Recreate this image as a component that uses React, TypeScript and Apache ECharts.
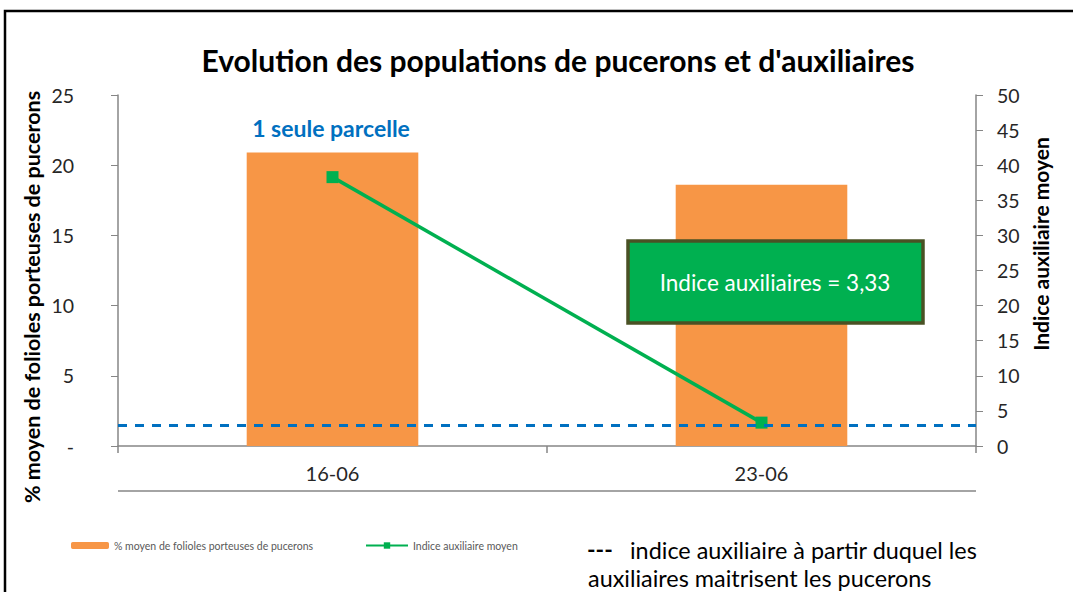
import React, { useEffect, useRef } from "react";
import * as echarts from "echarts";

const categories = ["16-06", "23-06"];
const pucerons = [20.9, 18.6];
const auxiliaires = [38.3, 3.33];
const seuil = 3;
const leftTicks = [0, 5, 10, 15, 20, 25];
const rightTicks = [0, 5, 10, 15, 20, 25, 30, 35, 40, 45, 50];

const FONT = "Lato, 'Open Sans', sans-serif";

export default function App() {
  const ref = useRef<HTMLDivElement>(null);
  useEffect(() => {
    if (!ref.current) return;
    const chart = echarts.init(ref.current, undefined, { renderer: "svg" });
    const gridLeft = 118, gridRight = 97, gridTop = 95, gridBottom = 146;
    chart.setOption({
      animation: false,
      backgroundColor: "#ffffff",
      textStyle: { fontFamily: FONT },
      title: {
        text: "Evolution des populations de pucerons et d'auxiliaires",
        left: 553,
        textAlign: "center",
        top: 40,
        textStyle: { fontFamily: FONT, fontSize: 30, fontWeight: "bold", color: "#000" },
      },
      grid: { left: gridLeft, right: gridRight, top: gridTop, bottom: gridBottom },
      legend: [
        {
          data: ["% moyen de folioles porteuses de pucerons"],
          left: 66,
          top: 535,
          itemWidth: 38,
          itemHeight: 7,
          itemGap: 5,
          textStyle: { fontSize: 10.5, color: "#595959", fontFamily: FONT },
        },
        {
          data: ["Indice auxiliaire moyen"],
          left: 360,
          top: 535,
          itemWidth: 42,
          itemHeight: 8,
          textStyle: { fontSize: 10.5, color: "#595959", fontFamily: FONT },
        },
      ],
      xAxis: {
        type: "category",
        data: categories,
        boundaryGap: true,
        axisLine: { lineStyle: { color: "#868686", width: 1.5 } },
        axisTick: { show: true, interval: 0, length: 7, lineStyle: { color: "#868686", width: 1.5 } },
        axisLabel: { fontSize: 20, color: "#262626", margin: 17, fontFamily: FONT },
      },
      yAxis: [
        {
          type: "value",
          min: 0,
          max: 25,
          interval: 5,
          axisLine: { show: true, lineStyle: { color: "#868686", width: 1.5 } },
          axisTick: { show: true, length: 7, lineStyle: { color: "#868686" } },
          axisLabel: {
            fontSize: 19.5,
            color: "#262626",
            margin: 20,
            padding: [0, 24, 0, 0],
            fontFamily: FONT,
            formatter: (v: number) => (leftTicks.includes(v) && v === 0 ? "-" : String(v)),
          },
          splitLine: { show: false },
        },
        {
          type: "value",
          min: 0,
          max: 50,
          interval: 5,
          axisLine: { show: true, lineStyle: { color: "#868686", width: 1.5 } },
          axisTick: { show: true, length: 7, lineStyle: { color: "#868686" } },
          axisLabel: {
            fontSize: 19.5,
            color: "#262626",
            margin: 21,
            fontFamily: FONT,
            formatter: (v: number) => (rightTicks.includes(v) ? String(v) : ""),
          },
          splitLine: { show: false },
        },
      ],
      series: [
        {
          name: "% moyen de folioles porteuses de pucerons",
          type: "bar",
          data: pucerons,
          yAxisIndex: 0,
          barWidth: "40%",
          itemStyle: { color: "#F79646" },
        },
        {
          name: "Indice auxiliaire moyen",
          type: "line",
          data: auxiliaires,
          yAxisIndex: 1,
          symbol: "rect",
          symbolSize: 12,
          lineStyle: { color: "#00B050", width: 3.5 },
          itemStyle: { color: "#00B050" },
          markLine: {
            silent: true,
            symbol: "none",
            label: { show: false },
            lineStyle: { color: "#0070C0", type: [9, 8], width: 3 },
            data: [{ yAxis: seuil }],
          },
        },
      ],
      graphic: [
        {
          type: "rect",
          z: 100,
          shape: { x: 5, y: 11, width: 1080, height: 600 },
          style: { fill: "none", stroke: "#000", lineWidth: 2.5 },
          silent: true,
        },
        {
          type: "line",
          z: 100,
          shape: { x1: 118, y1: 491, x2: 976, y2: 491 },
          style: { stroke: "#868686", lineWidth: 1.5 },
        },
        {
          type: "text",
          z: 100,
          x: 32,
          y: 297,
          rotation: Math.PI / 2,
          style: {
            text: "% moyen de folioles porteuses de pucerons",
            fill: "#000",
            font: `bold 21.5px ${FONT}`,
            textAlign: "center",
            textVerticalAlign: "middle",
          },
        },
        {
          type: "text",
          z: 100,
          x: 1040,
          y: 244,
          rotation: Math.PI / 2,
          style: {
            text: "Indice auxiliaire moyen",
            fill: "#000",
            font: `bold 21px ${FONT}`,
            textAlign: "center",
            textVerticalAlign: "middle",
          },
        },
        {
          type: "text",
          z: 100,
          x: 331,
          y: 128,
          style: {
            text: "1 seule parcelle",
            fill: "#0070C0",
            font: `bold 23px ${FONT}`,
            textAlign: "center",
            textVerticalAlign: "middle",
          },
        },
        {
          type: "rect",
          z: 100,
          shape: { x: 628, y: 241, width: 295, height: 82 },
          style: { fill: "#00B050", stroke: "#4A5124", lineWidth: 3.5 },
        },
        {
          type: "text",
          z: 101,
          x: 775,
          y: 282,
          style: {
            text: "Indice auxiliaires = 3,33",
            fill: "#ffffff",
            font: `22.5px ${FONT}`,
            textAlign: "center",
            textVerticalAlign: "middle",
          },
        },
        {
          type: "text",
          z: 100,
          x: 587,
          y: 549,
          style: {
            text: "---",
            fill: "#000",
            font: `bold 23px ${FONT}`,
            textVerticalAlign: "middle",
          },
        },
        {
          type: "text",
          z: 100,
          x: 630,
          y: 550,
          style: {
            text: "indice auxiliaire à partir duquel les",
            fill: "#000",
            font: `23.4px ${FONT}`,
            textVerticalAlign: "middle",
          },
        },
        {
          type: "text",
          z: 100,
          x: 588,
          y: 578,
          style: {
            text: "auxiliaires maitrisent les pucerons",
            fill: "#000",
            font: `23.4px ${FONT}`,
            textVerticalAlign: "middle",
          },
        },
      ],
    });
    return () => chart.dispose();
  }, []);
  return (
    <div
      ref={ref}
      style={{ position: "fixed", left: 0, top: 0, width: 1073, height: 592 }}
    />
  );
}
